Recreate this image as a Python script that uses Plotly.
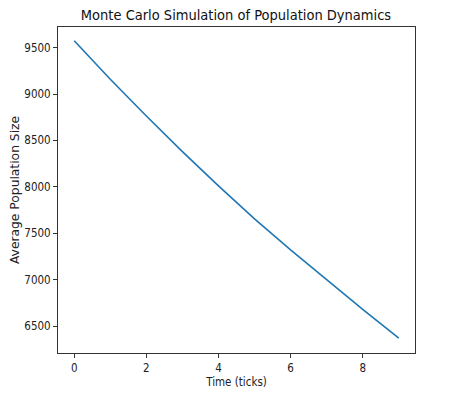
import plotly.graph_objects as go

time_ticks = [0, 1, 2, 3, 4, 5, 6, 7, 8, 9]
avg_population = [9575, 9160, 8764, 8380, 8011, 7655, 7320, 6995, 6680, 6370]
x_tick_vals = [0, 2, 4, 6, 8]
y_tick_vals = [6500, 7000, 7500, 8000, 8500, 9000, 9500]

title_text = "Monte Carlo Simulation of Population Dynamics"
x_label = "Time (ticks)"
y_label = "Average Population Size"

HFONT = "DejaVu Sans Condensed, Liberation Sans Narrow, DejaVu Sans"

fig = go.Figure()
fig.add_trace(go.Scatter(x=time_ticks, y=avg_population, mode="lines",
                         line=dict(color="#1f77b4", width=1.6)))

fig.update_layout(
    width=460, height=397,
    margin=dict(l=50, r=53, t=19, b=52),
    paper_bgcolor="white", plot_bgcolor="white",
    showlegend=False,
    title=dict(text=title_text, x=228/460, xanchor="center", y=1 - 7/397, yanchor="middle",
               font=dict(family=HFONT, size=14.5, color="#111")),
    font=dict(family=HFONT, size=11.5, color="#222"),
)
fig.update_xaxes(range=[-0.45, 9.45], tickvals=x_tick_vals, ticks="outside", ticklen=4,
                 tickcolor="#333", showgrid=False, zeroline=False, showline=True,
                 linecolor="#333", linewidth=1, mirror=True, automargin=False,
                 title=dict(text=x_label, standoff=4, font=dict(family=HFONT, size=11.5)))
fig.update_yaxes(range=[6209, 9723], tickvals=y_tick_vals, ticks="outside", ticklen=4,
                 tickcolor="#333", showgrid=False, zeroline=False, showline=True,
                 linecolor="#333", linewidth=1, mirror=True, automargin=False,
                 title=dict(text=y_label, standoff=5, font=dict(family="DejaVu Sans", size=12.3)))

fig.write_html("out.html")
